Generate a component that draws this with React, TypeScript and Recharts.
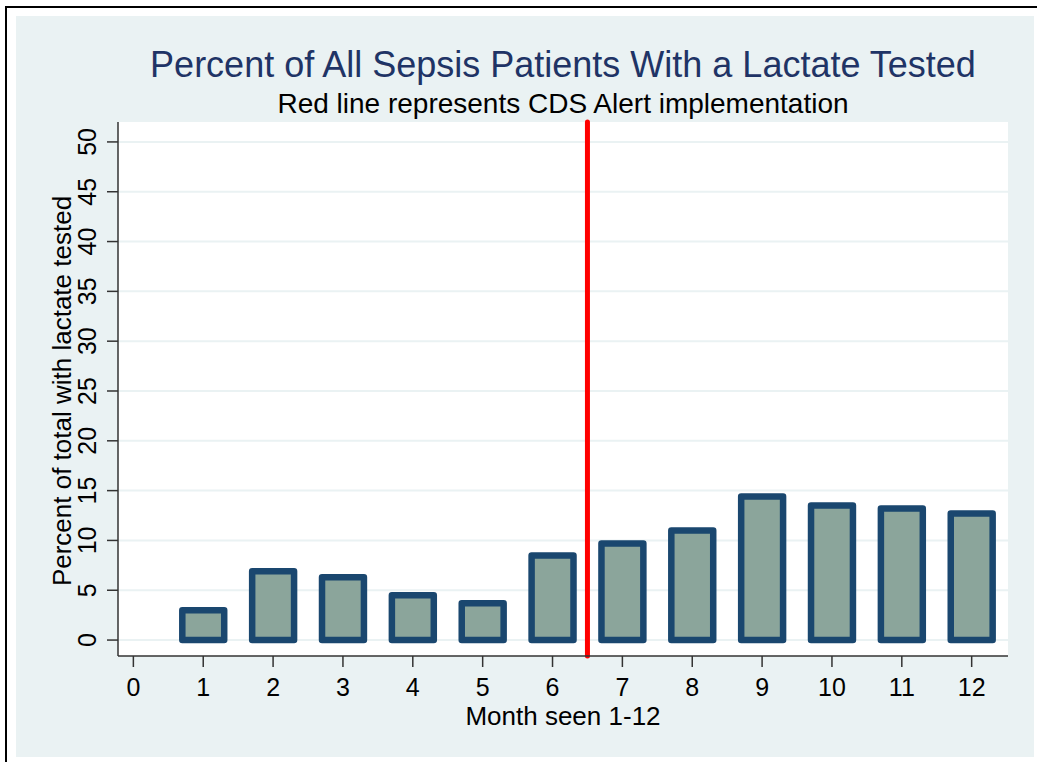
import React from 'react';
import {
  BarChart,
  Bar,
  XAxis,
  YAxis,
  CartesianGrid,
  ReferenceLine,
  Label,
} from 'recharts';

const MONTHS = [1, 2, 3, 4, 5, 6, 7, 8, 9, 10, 11, 12];
const PCT_LACTATE = [3.0, 6.9, 6.3, 4.5, 3.7, 8.5, 9.7, 11.0, 14.4, 13.5, 13.2, 12.7];
const X_TICKS = [0, 1, 2, 3, 4, 5, 6, 7, 8, 9, 10, 11, 12];
const Y_TICKS = [0, 5, 10, 15, 20, 25, 30, 35, 40, 45, 50];
const ALERT_MONTH = 6.5;

const TITLE = 'Percent of All Sepsis Patients With a Lactate Tested';
const SUBTITLE = 'Red line represents CDS Alert implementation';
const X_LABEL = 'Month seen 1-12';
const Y_LABEL = 'Percent of total with lactate tested';

const data = MONTHS.map((m, i) => ({ month: m, pct: PCT_LACTATE[i] }));

const FONT = "'Liberation Sans Narrow', 'Arial Narrow', 'Liberation Sans', Arial, sans-serif";
const W = 1037;
const H = 762;
// plot area in page pixels
const PLOT = { left: 118, right: 1008, top: 122, bottom: 656 };
const Y_AXIS_W = 60;
const X_AXIS_H = 60;
const X_DOMAIN: [number, number] = [-0.22, 12.52];
const Y_DOMAIN: [number, number] = [-1.6, 52];

const pxPerMonth = (PLOT.right - PLOT.left) / (X_DOMAIN[1] - X_DOMAIN[0]);
const BAR_W = 0.6 * pxPerMonth;

const BarShape = (props: any) => {
  const { x, y, width, height } = props;
  return (
    <rect
      x={x}
      y={y}
      width={width}
      height={height}
      fill="#8ba59b"
      stroke="#1a476f"
      strokeWidth={6.5}
      strokeLinejoin="round"
    />
  );
};

const XTick = (props: any) => {
  const { x, y, payload } = props;
  return (
    <text x={x} y={y + 18} textAnchor="middle" dominantBaseline="central" fontSize={25} fontFamily={FONT} fill="#000">
      {payload.value}
    </text>
  );
};

const YTick = (props: any) => {
  const { y, payload } = props;
  const cx = 87;
  return (
    <text
      x={cx}
      y={y}
      transform={`rotate(-90, ${cx}, ${y})`}
      textAnchor="middle"
      dominantBaseline="central"
      fontSize={25}
      fontFamily={FONT}
      fill="#000"
    >
      {payload.value}
    </text>
  );
};

export default function App() {
  const midY = (PLOT.top + PLOT.bottom) / 2 + 2;
  return (
    <div style={{ position: 'absolute', left: 0, top: 0, width: W, height: H, background: '#fff', overflow: 'hidden' }}>
      <div style={{ position: 'absolute', left: 5, top: 6, right: 0, height: 2, background: '#000' }} />
      <div style={{ position: 'absolute', left: 5, top: 6, bottom: 0, width: 2, background: '#000' }} />
      <div style={{ position: 'absolute', left: 16, top: 16, width: 1034 - 16, height: 757 - 16, background: '#eaf2f3' }} />
      <svg width={W} height={H} style={{ position: 'absolute', left: 0, top: 0 }}>
        <text x={563} y={77} textAnchor="middle" fontSize={36} fontFamily={FONT} fill="#1f3466">
          {TITLE}
        </text>
        <text x={563} y={113} textAnchor="middle" fontSize={28} fontFamily={FONT} fill="#000">
          {SUBTITLE}
        </text>
      </svg>
      <div style={{ position: 'absolute', left: 0, top: 0 }}>
        <BarChart
          width={W}
          height={H}
          data={data}
          barSize={BAR_W}
          margin={{
            top: PLOT.top,
            right: W - PLOT.right,
            left: PLOT.left - Y_AXIS_W,
            bottom: H - PLOT.bottom - X_AXIS_H,
          }}
        >
          <CartesianGrid
            horizontal
            vertical={false}
            fill="#ffffff"
            fillOpacity={1}
            stroke="#eaf2f3"
            strokeWidth={2}
            horizontalValues={Y_TICKS}
          />
          <XAxis
            dataKey="month"
            type="number"
            domain={X_DOMAIN}
            ticks={X_TICKS}
            allowDataOverflow
            height={X_AXIS_H}
            tickSize={11}
            axisLine={{ stroke: '#333', strokeWidth: 1.5 }}
            tickLine={{ stroke: '#333', strokeWidth: 1.5 }}
            tick={<XTick />}
            interval={0}
          >
            <Label
              content={() => (
                <text x={563} y={725} textAnchor="middle" fontSize={26} fontFamily={FONT} fill="#000">
                  {X_LABEL}
                </text>
              )}
            />
          </XAxis>
          <YAxis
            type="number"
            domain={Y_DOMAIN}
            ticks={Y_TICKS}
            allowDataOverflow
            width={Y_AXIS_W}
            tickSize={11}
            axisLine={{ stroke: '#333', strokeWidth: 1.5 }}
            tickLine={{ stroke: '#333', strokeWidth: 1.5 }}
            tick={<YTick />}
            interval={0}
          >
            <Label
              content={() => (
                <text
                  x={62}
                  y={midY}
                  transform={`rotate(-90, 62, ${midY})`}
                  textAnchor="middle"
                  dominantBaseline="central"
                  fontSize={26}
                  fontFamily={FONT}
                  fill="#000"
                >
                  {Y_LABEL}
                </text>
              )}
            />
          </YAxis>
          <Bar dataKey="pct" shape={BarShape} isAnimationActive={false} />
          <ReferenceLine x={ALERT_MONTH} stroke="#ff0000" strokeWidth={5} strokeLinecap="round" />
        </BarChart>
      </div>
    </div>
  );
}
